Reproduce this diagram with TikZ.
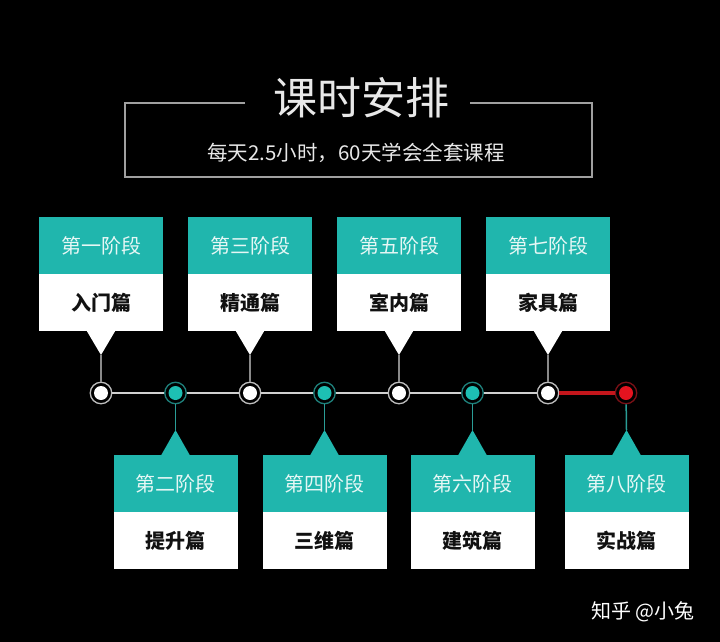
\documentclass[tikz,border=0pt]{standalone}
\usepackage{fontspec}
\setmainfont{Noto Sans CJK SC}
\definecolor{cardteal}{HTML}{20B6AD}
\definecolor{headtext}{HTML}{E6F7F5}
\definecolor{bodytext}{HTML}{111111}
\definecolor{ringgrey}{HTML}{BDBDBD}
\definecolor{ringteal}{HTML}{1E7F7A}
\definecolor{dotteal}{HTML}{1DBFB3}
\definecolor{ringred}{HTML}{7A1016}
\definecolor{dotred}{HTML}{E5131F}
\definecolor{linered}{HTML}{C4161C}
\definecolor{hgrey}{HTML}{D0D0D0}
\definecolor{vgrey}{HTML}{8A8A8A}
\definecolor{vteal}{HTML}{2A9D96}
\definecolor{boxgrey}{HTML}{A0A0A0}
\definecolor{titletext}{HTML}{E8E8E8}
\begin{document}
\begin{tikzpicture}[x=1pt,y=-1pt,
  head/.style={rectangle, fill=cardteal, minimum width=124pt, minimum height=57pt, inner sep=0pt, text=headtext, font=\fontsize{20}{24}\selectfont},
  body/.style={rectangle, fill=white, minimum width=124pt, minimum height=57pt, inner sep=0pt, text=bodytext, font=\fontsize{20}{24}\selectfont\bfseries},
  ringbase/.style={circle, line width=1.3pt, fill=black, minimum size=21.5pt, inner sep=0pt},
  ringw/.style={ringbase, draw=ringgrey},
  ringt/.style={ringbase, draw=ringteal},
  ringr/.style={ringbase, draw=ringred},
  dotbase/.style={circle, minimum size=14pt, inner sep=0pt},
  dotw/.style={dotbase, fill=white},
  dott/.style={dotbase, fill=dotteal},
  dotr/.style={dotbase, fill=dotred},
  hline/.style={draw=hgrey, line width=1.5pt},
  redline/.style={draw=linered, line width=3.2pt},
  greyv/.style={draw=vgrey, line width=1.5pt},
  tealv/.style={draw=vteal, line width=1.5pt},
  boxline/.style={draw=boxgrey, line width=1.2pt}
]
\fill[black] (0,0) rectangle (720,642);
\useasboundingbox (0,0) rectangle (720,642);

% title frame
\draw[boxline] (245,103) -- (125,103) -- (125,177) -- (592,177) -- (592,103) -- (470,103);
\node[text=titletext, font=\fontsize{44}{50}\selectfont, inner sep=0pt] (title) at (361,98) {课时安排};
\node[text=titletext, font=\fontsize{20.5}{24}\selectfont, inner sep=0pt] (subtitle) at (356,153) {每天2.5小时，60天学会全套课程};

% timeline rings and dots
\foreach \i/\x/\k in {1/101/w, 2/175.5/t, 3/250/w, 4/324.5/t, 5/399/w, 6/472.5/t, 7/548/w, 8/626/r}{
  \node[ring\k] (r\i) at (\x,393) {};
  \node[dot\k] (d\i) at (\x,393) {};
}
\draw[hline] (r1) -- (r2);
\draw[hline] (r2) -- (r3);
\draw[hline] (r3) -- (r4);
\draw[hline] (r4) -- (r5);
\draw[hline] (r5) -- (r6);
\draw[hline] (r6) -- (r7);
\draw[redline] (r7) -- (r8);

% top cards
\foreach \i/\x/\h/\b in {1/101/第一阶段/入门篇, 3/250/第三阶段/精通篇, 5/399/第五阶段/室内篇, 7/548/第七阶段/家具篇}{
  \node[head] (h\i) at (\x,245.5) {\h};
  \node[body] (b\i) at (\x,302.5) {\b};
  \coordinate (t\i) at (\x,355);
  \fill[white] (\x-14.5,330.5) -- (t\i) -- (\x+14.5,330.5) -- cycle;
  \draw[greyv] (t\i) -- (r\i);
}

% bottom cards
\foreach \i/\x/\h/\b in {2/175.5/第二阶段/提升篇, 4/324.5/第四阶段/三维篇, 6/472.5/第六阶段/建筑篇, 8/626.5/第八阶段/实战篇}{
  \node[head] (h\i) at (\x,483.5) {\h};
  \node[body] (b\i) at (\x,540.5) {\b};
  \coordinate (t\i) at (\x,430);
  \fill[cardteal] (\x-14.5,455.5) -- (t\i) -- (\x+14.5,455.5) -- cycle;
  \draw[tealv] (r\i) -- (t\i);
}

% watermark
\node[text=white, font=\fontsize{20}{24}\selectfont, inner sep=0pt] (wm) at (643,612) {知乎 @小兔};
\end{tikzpicture}
\end{document}
